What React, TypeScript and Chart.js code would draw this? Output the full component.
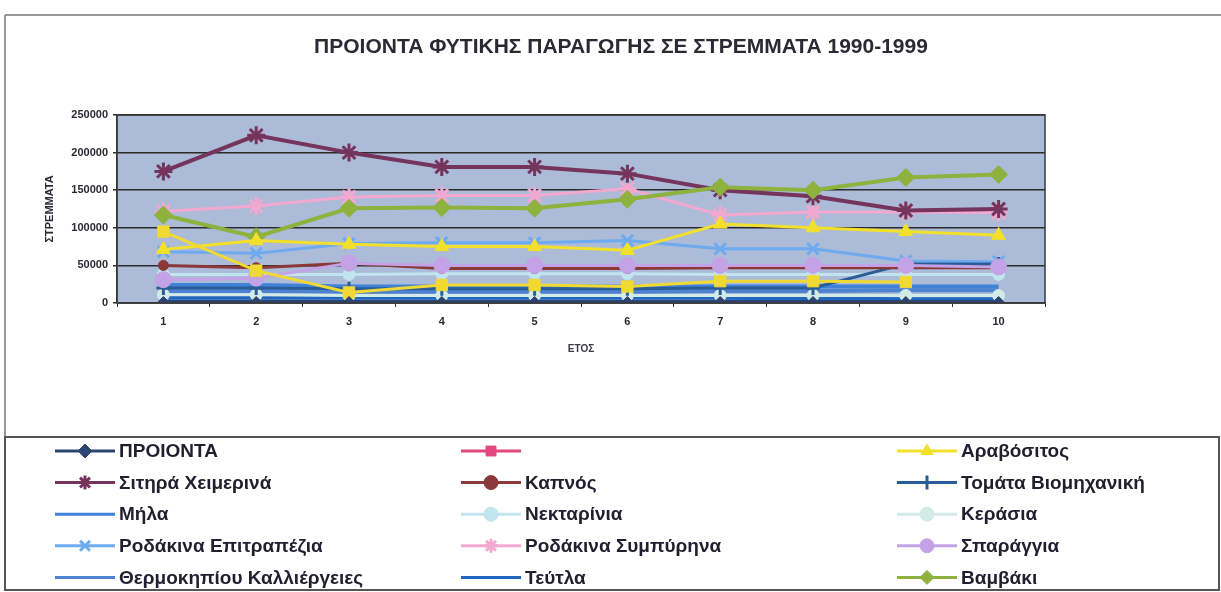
import React, { useEffect, useRef } from 'react';
import { Chart, registerables } from 'chart.js';
import { drawPoint } from 'chart.js/helpers';

Chart.register(...registerables);

// ---------- data ----------
const categories = ['1', '2', '3', '4', '5', '6', '7', '8', '9', '10'];
const yTickValues = [0, 50000, 100000, 150000, 200000, 250000];
const chartTitle = 'ΠΡΟΙΟΝΤΑ ΦΥΤΙΚΗΣ ΠΑΡΑΓΩΓΗΣ ΣΕ ΣΤΡΕΜΜΑΤΑ 1990-1999';

const proionta = [1990, 1991, 1992, 1993, 1994, 1995, 1996, 1997, 1998, 1999];
const unnamedSeries = [95000, 43000, 14000, 24000, 24000, 22000, 29000, 29000, 28000, null];
const aravositos = [71000, 83000, 78000, 75000, 75000, 70000, 105000, 100000, 95000, 90000];
const sitiraXeimerina = [175000, 223000, 200000, 181000, 181000, 172000, 150000, 142000, 123000, 125000];
const kapnos = [50000, 47000, 53000, 46000, 46000, 46000, 47000, 47000, 47000, 47000];
const tomataViomixaniki = [20000, 20000, 19000, 19000, 19000, 19000, 20000, 20000, 52000, 52000];
const mila = [24000, 24000, 22000, 22000, 22000, 22000, 22000, 22000, 22000, 22000];
const nektarinia = [38000, 38000, 38000, 39000, 39000, 39000, 38000, 38000, 38000, 38000];
const kerasia = [11000, 11000, 10000, 10000, 10000, 10000, 10000, 10000, 10000, 10000];
const rodakinaEpitrapezia = [68000, 66000, 79000, 80000, 80000, 83000, 72000, 72000, 56000, 55000];
const rodakinaSympyrina = [122000, 129000, 141000, 143000, 143000, 152000, 117000, 121000, 121000, 120000];
const sparaggia = [31000, 33000, 53000, 50000, 50000, 50000, 50000, 50000, 50000, 48000];
const thermokipiou = [16000, 16000, 15000, 15000, 15000, 15000, 16000, 16000, 17000, 17000];
const teutla = [7000, 7000, 7000, 7000, 7000, 7000, 7000, 6000, 5000, 5000];
const vamvaki = [117000, 88000, 126000, 127000, 126000, 138000, 154000, 150000, 167000, 171000];

const FONT = '"Liberation Sans", Arial, sans-serif';

function series(label: string, data: (number | null)[], color: string, pointStyle: any, radius: number, width: number, order: number, extra: any = {}) {
  return {
    label,
    data,
    order,
    borderColor: color,
    backgroundColor: color,
    pointBackgroundColor: color,
    pointBorderColor: color,
    pointStyle,
    pointRadius: radius,
    pointBorderWidth: pointStyle === 'star' || pointStyle === 'cross' || pointStyle === 'crossRot' ? 3 : 1,
    borderWidth: width,
    tension: 0,
    spanGaps: false,
    ...extra,
  };
}

const plotBgPlugin = {
  id: 'plotBg',
  beforeDraw(chart: any) {
    const { ctx, chartArea: a } = chart;
    ctx.save();
    ctx.fillStyle = '#abbbd8';
    ctx.fillRect(a.left, a.top, a.right - a.left, a.bottom - a.top);
    ctx.restore();
  },
};

const frameLegendPlugin = {
  id: 'frameLegend',
  afterDraw(chart: any) {
    const { ctx, chartArea: a } = chart;
    ctx.save();
    // plot border
    ctx.strokeStyle = '#3a3a3a';
    ctx.lineWidth = 1.5;
    ctx.strokeRect(a.left, a.top, a.right - a.left, a.bottom - a.top);
    // outer frame
    ctx.strokeStyle = '#777';
    ctx.lineWidth = 1.5;
    ctx.beginPath();
    ctx.moveTo(5, 15);
    ctx.lineTo(1221, 15);
    ctx.moveTo(5, 15);
    ctx.lineTo(5, 590);
    ctx.stroke();
    // legend box
    ctx.strokeStyle = '#555';
    ctx.lineWidth = 2;
    ctx.strokeRect(5, 437, 1214, 153);

    // title
    ctx.fillStyle = '#2a2a35';
    ctx.font = `bold 21px ${FONT}`;
    ctx.textAlign = 'center';
    ctx.textBaseline = 'middle';
    ctx.fillText(chartTitle, 621, 47);

    const colX = [117, 523, 959];
    const rowY0 = 451;
    const rowStep = 31.6;
    chart.data.datasets.forEach((ds: any, i: number) => {
      const col = i % 3;
      const row = Math.floor(i / 3);
      const tx = colX[col];
      const ty = rowY0 + row * rowStep;
      const color = ds.legendColor || ds.borderColor;
      ctx.strokeStyle = color;
      ctx.lineWidth = 3;
      ctx.beginPath();
      ctx.moveTo(tx - 62, ty);
      ctx.lineTo(tx - 2, ty);
      ctx.stroke();
      if (ds.pointRadius > 0) {
        ctx.fillStyle = color;
        ctx.strokeStyle = color;
        ctx.lineWidth = ds.pointBorderWidth || 1;
        drawPoint(ctx, { pointStyle: ds.pointStyle, radius: 7, rotation: 0, borderWidth: ds.pointBorderWidth || 1 } as any, tx - 32, ty);
      }
      ctx.fillStyle = '#1f1f2e';
      ctx.font = `bold 19px ${FONT}`;
      ctx.textAlign = 'left';
      ctx.textBaseline = 'middle';
      ctx.fillText(ds.label, tx + 2, ty + 1);
    });
    ctx.restore();
  },
};

export default function App() {
  const canvasRef = useRef<HTMLCanvasElement | null>(null);

  useEffect(() => {
    document.body.style.margin = '0';
    const canvas = canvasRef.current;
    if (!canvas) return;

    const datasets = [
      series('ΠΡΟΙΟΝΤΑ', proionta, '#2e4470', 'rectRot', 5, 3, 0),
      series('', unnamedSeries, '#f0d932', 'rect', 8, 3, 1, { legendColor: '#e2487e' }),
      series('Αραβόσιτος', aravositos, '#f3e02a', 'triangle', 8, 3, 2),
      series('Σιτηρά Χειμερινά', sitiraXeimerina, '#74345c', 'star', 9, 4, 3),
      series('Καπνός', kapnos, '#8a3838', 'circle', 5, 3, 4),
      series('Τομάτα Βιομηχανική', tomataViomixaniki, '#2a5c98', 'cross', 7, 3, 5),
      series('Μήλα', mila, '#3f82d8', 'circle', 0, 4, 6),
      series('Νεκταρίνια', nektarinia, '#c2e4ee', 'circle', 6, 3, 7),
      series('Κεράσια', kerasia, '#d2ebe6', 'circle', 6, 3, 8),
      series('Ροδάκινα Επιτραπέζια', rodakinaEpitrapezia, '#6eaaf0', 'crossRot', 8, 3, 9),
      series('Ροδάκινα Συμπύρηνα', rodakinaSympyrina, '#f2a8cf', 'star', 9, 3, 10),
      series('Σπαράγγια', sparaggia, '#c4a2e6', 'circle', 8, 3, 3.6),
      series('Θερμοκηπίου Καλλιέργειες', thermokipiou, '#4d82d0', 'circle', 0, 4, 12),
      series('Τεύτλα', teutla, '#2166c0', 'circle', 0, 4, 13),
      series('Βαμβάκι', vamvaki, '#8fb23e', 'rectRot', 9, 4, 2.5),
    ];

    const chart = new Chart(canvas, {
      type: 'line',
      data: { labels: categories, datasets: datasets as any },
      options: {
        responsive: false,
        animation: false,
        layout: { padding: { top: 115, left: 0, right: 176, bottom: 229 } },
        plugins: {
          legend: { display: false },
          tooltip: { enabled: false },
          title: { display: false },
        },
        scales: {
          x: {
            type: 'category',
            offset: true,
            afterFit: (scale: any) => { scale.height = 60; },
            grid: { display: true, drawOnChartArea: false, drawTicks: true, tickLength: 4, color: '#333', offset: true },
            border: { display: true, color: '#333', width: 1.5 },
            ticks: { color: '#2a2a35', font: { family: FONT, size: 11, weight: 'bold' }, padding: 8, maxRotation: 0 },
            title: {
              display: true,
              text: 'ΕΤΟΣ',
              color: '#3a3a45',
              font: { family: FONT, size: 10, weight: 'bold' },
              padding: { top: 0, bottom: 8 },
            },
          },
          y: {
            min: 0,
            max: 250000,
            afterFit: (scale: any) => { scale.width = 117; },
            afterBuildTicks: (scale: any) => { scale.ticks = yTickValues.map((v) => ({ value: v })); },
            grid: { color: '#2b2b2b', lineWidth: 1.5, drawTicks: true, tickLength: 4 },
            border: { display: true, color: '#333', width: 1.5 },
            ticks: {
              color: '#2a2a35',
              font: { family: FONT, size: 11, weight: 'bold' },
              padding: 5,
              callback: (v: any) => String(v),
            },
            title: {
              display: true,
              text: 'ΣΤΡΕΜΜΑΤΑ',
              color: '#2a2a35',
              font: { family: FONT, size: 11, weight: 'bold' },
              padding: { top: 43, bottom: 0 },
            },
          },
        },
      },
      plugins: [plotBgPlugin, frameLegendPlugin],
    });

    return () => chart.destroy();
  }, []);

  return <canvas ref={canvasRef} width={1221} height={592} style={{ display: 'block' }} />;
}
